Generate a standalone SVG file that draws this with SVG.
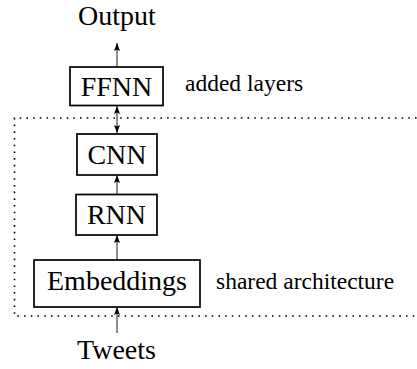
<svg xmlns="http://www.w3.org/2000/svg" width="417" height="369" viewBox="0 0 417 369">
<defs>
<style>
.box{fill:#fff;stroke:#000;stroke-width:1.7}
.lbl{font-size:28px;fill:#000;text-anchor:middle}
.note{font-size:23.5px;fill:#000}
.edge{fill:none;stroke:#000;stroke-width:0.9}
.dot{fill:none;stroke:#000;stroke-width:1.6;stroke-dasharray:1.6 5.1}
</style>
<marker id="ah" viewBox="0 0 8 6" refX="8" refY="3" markerWidth="8" markerHeight="6" markerUnits="userSpaceOnUse" orient="auto-start-reverse">
<path d="M0,0 L8,3 L0,6 L1.5,3 Z" fill="#000"/>
</marker>
</defs>
<g id="region">
<path class="dot" d="M430,118 H14.5 V316 H430"/>
</g>
<g id="connectors">
<line class="edge" x1="117" y1="67" x2="117" y2="43" marker-end="url(#ah)"/>
<line class="edge" x1="117" y1="106" x2="117" y2="133" marker-start="url(#ah)" marker-end="url(#ah)"/>
<line class="edge" x1="117" y1="194" x2="117" y2="175" marker-end="url(#ah)"/>
<line class="edge" x1="117" y1="260" x2="117" y2="235" marker-end="url(#ah)"/>
<line class="edge" x1="117" y1="333" x2="117" y2="307" marker-end="url(#ah)"/>
</g>
<g font-family="Liberation Serif, serif">
<g id="output"><text class="lbl" x="117" y="25">Output</text></g>
<g id="ffnn"><rect class="box" x="70" y="67" width="93" height="38.5"/><text class="lbl" x="116.5" y="96">FFNN</text></g>
<g id="added-layers"><text class="note" x="185" y="91">added layers</text></g>
<g id="cnn"><rect class="box" x="77" y="134" width="80" height="41"/><text class="lbl" x="117" y="164">CNN</text></g>
<g id="rnn"><rect class="box" x="76" y="194.5" width="81" height="40.5"/><text class="lbl" x="116.5" y="224">RNN</text></g>
<g id="embeddings"><rect class="box" x="34" y="260" width="166" height="47"/><text class="lbl" x="117" y="290">Embeddings</text></g>
<g id="shared-architecture"><text class="note" x="216" y="289">shared architecture</text></g>
<g id="tweets"><text class="lbl" x="116.5" y="359">Tweets</text></g>
</g>
</svg>
